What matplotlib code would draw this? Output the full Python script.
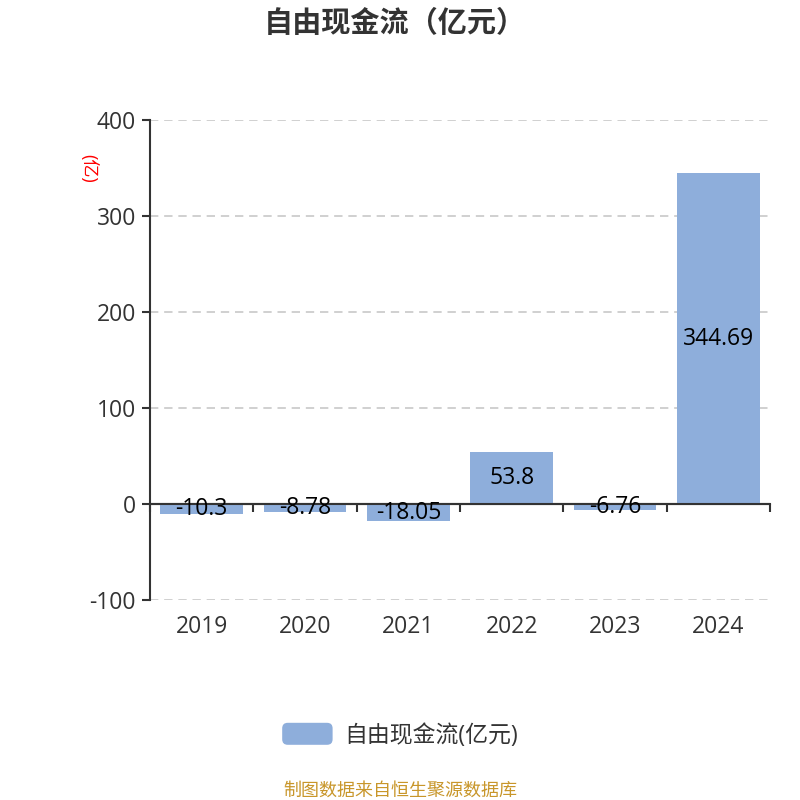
import matplotlib
matplotlib.use('Agg')
import matplotlib.pyplot as plt
from matplotlib.patches import Patch, FancyBboxPatch
from matplotlib.legend_handler import HandlerPatch

plt.rcParams['font.family'] = ['Open Sans', 'Noto Sans CJK SC', 'DejaVu Sans']

years = ['2019', '2020', '2021', '2022', '2023', '2024']
fcf = [-10.3, -8.78, -18.05, 53.8, -6.76, 344.69]
fcf_labels = ['-10.3', '-8.78', '-18.05', '53.8', '-6.76', '344.69']
y_ticks = [-100, 0, 100, 200, 300, 400]

bar_color = '#8eaedb'
text_color = '#333333'


class RoundHandler(HandlerPatch):
    def create_artists(self, legend, orig_handle, xdescent, ydescent,
                       width, height, fontsize, trans):
        p = FancyBboxPatch((-xdescent, -ydescent), width, height,
                           boxstyle='round,pad=0,rounding_size=4',
                           facecolor=orig_handle.get_facecolor(),
                           edgecolor='none', transform=trans)
        return [p]


fig = plt.figure(figsize=(8, 8), dpi=100)
ax = fig.add_axes([0.1875, 0.25, 0.775, 0.6])

x = list(range(len(years)))
bars = ax.bar(x, fcf, width=0.8, color=bar_color, zorder=3)
for b, lab in zip(bars, fcf_labels):
    ax.text(b.get_x() + b.get_width() / 2, b.get_height() / 2, lab,
            ha='center', va='center', fontsize=16.5, color='black', zorder=5)

ax.set_xlim(-0.5, len(years) - 0.5)
ax.set_ylim(-100, 400)
ax.set_yticks(y_ticks)
ax.set_yticklabels([str(v) for v in y_ticks])
ax.tick_params(axis='y', length=6, width=1.5, color=text_color, labelsize=16.5,
               labelcolor=text_color, pad=4)
ax.grid(axis='y', linestyle=(0, (5, 3.5)), color='#c8c8c8', linewidth=1.2, zorder=0)

for s in ['top', 'right', 'bottom']:
    ax.spines[s].set_visible(False)
ax.spines['left'].set_color(text_color)
ax.spines['left'].set_linewidth(1.5)

# category labels under the plot
ax.set_xticks(x)
ax.set_xticklabels(years)
ax.tick_params(axis='x', length=0, labelsize=16.5, labelcolor=text_color, pad=11)

# zero axis line with boundary ticks
ax.axhline(0, color=text_color, linewidth=1.5, zorder=4)
sec = ax.secondary_xaxis(0.2)
sec.set_xticks([i - 0.5 for i in range(len(years) + 1)])
sec.set_xticklabels([])
sec.tick_params(axis='x', length=6, width=1.5, color=text_color, direction='out')
sec.spines['bottom'].set_color(text_color)
sec.spines['bottom'].set_linewidth(1.5)

ax.text(-0.1, 0.9, '(亿)', transform=ax.transAxes, rotation=-90, color='red',
        fontsize=13, ha='center', va='center')

fig.text(0.494, 0.969, '自由现金流（亿元）', ha='center', va='center',
         fontsize=21, fontweight='bold', color=text_color)

handle = Patch(facecolor=bar_color, edgecolor='none')
fig.legend([handle], ['自由现金流(亿元)'], loc='center', bbox_to_anchor=(0.5, 0.081),
           frameon=False, fontsize=16.5, handlelength=2.2, handleheight=1.1,
           handletextpad=0.5, labelcolor=text_color,
           handler_map={Patch: RoundHandler()})

fig.text(0.5, 0.012, '制图数据来自恒生聚源数据库', ha='center', va='center',
         fontsize=13, color='#c8962a')

fig.savefig('out.png', dpi=100)
